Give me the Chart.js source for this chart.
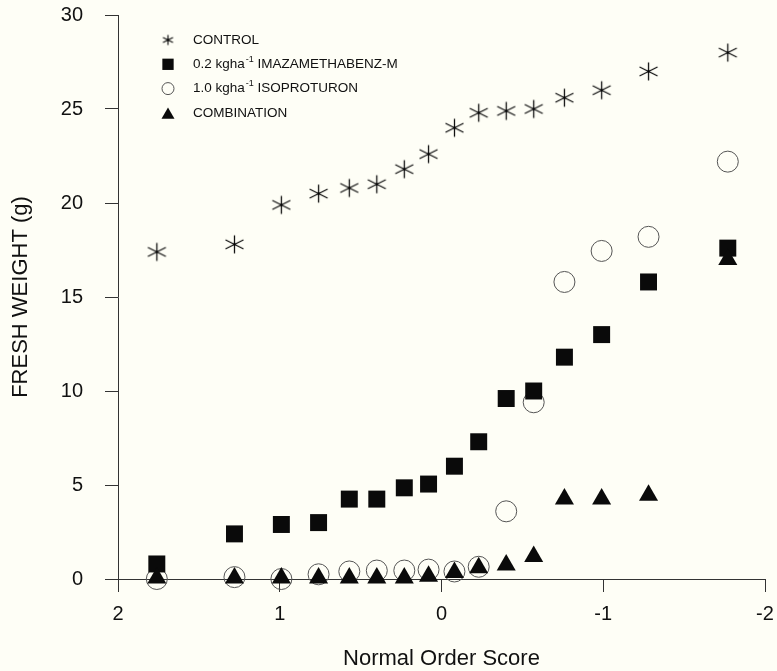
<!DOCTYPE html>
<html>
<head>
<meta charset="utf-8">
<title>Fresh weight against normal order score</title>
<script src="https://cdn.jsdelivr.net/npm/chart.js@4.4.1/dist/chart.umd.min.js"></script>
<style>
  html, body { margin: 0; padding: 0; background: #fefef6; }
  #wrap { width: 777px; height: 671px; position: relative; }
</style>
</head>
<body>
<div id="wrap"><canvas id="chart"></canvas></div>
<script>
// normal order scores (x) shared by every treatment
var scores = [1.76, 1.28, 0.99, 0.76, 0.57, 0.40, 0.23, 0.08, -0.08, -0.23, -0.40, -0.57, -0.76, -0.99, -1.28, -1.77];

// fresh weight (g), one value per score
var control = [17.4, 17.8, 19.9, 20.5, 20.8, 21.0, 21.8, 22.6, 24.0, 24.8, 24.9, 25.0, 25.6, 26.0, 27.0, 28.0];
var imaz    = [0.8, 2.4, 2.9, 3.0, 4.25, 4.25, 4.85, 5.05, 6.0, 7.3, 9.6, 10.0, 11.8, 13.0, 15.8, 17.6];
var iso     = [0.0, 0.1, 0.0, 0.25, 0.4, 0.45, 0.45, 0.5, 0.4, 0.65, 3.6, 9.4, 15.8, 17.45, 18.2, 22.2];
var combo   = [0.05, 0.05, 0.05, 0.05, 0.05, 0.05, 0.05, 0.15, 0.35, 0.6, 0.75, 1.2, 4.25, 4.25, 4.45, 17.0];

var xTicks = [2, 1, 0, -1, -2];
var yTicks = [0, 5, 10, 15, 20, 25, 30];

// legend text: [before, superscript, after]
var names = [
  ['CONTROL', '', ''],
  ['0.2 kgha', '-1', ' IMAZAMETHABENZ-M'],
  ['1.0 kgha', '-1', ' ISOPROTURON'],
  ['COMBINATION', '', '']
];

var FONT = "'Liberation Sans', Arial, Helvetica, sans-serif";
Chart.defaults.font.family = FONT;
Chart.defaults.color = '#111';

// six-armed asterisk used for the control marker
function asterisk(size, arm, lw) {
  var c = document.createElement('canvas');
  c.width = c.height = size;
  var g = c.getContext('2d'), m = size / 2;
  g.strokeStyle = '#111';
  g.lineWidth = lw;
  g.beginPath();
  g.moveTo(m, m - arm); g.lineTo(m, m + arm);
  g.moveTo(m - arm, m - arm * 0.5); g.lineTo(m + arm, m + arm * 0.5);
  g.moveTo(m - arm, m + arm * 0.5); g.lineTo(m + arm, m - arm * 0.5);
  g.stroke();
  g.fillStyle = '#000';
  g.fillRect(m - 1, m - 1, 2, 2);
  return c;
}

function pts(ys) {
  return ys.map(function(y, i) { return { x: scores[i], y: y }; });
}

var datasets = [
  { data: pts(control), pointStyle: asterisk(21, 9, 1.3), order: 3,
    legend: { img: asterisk(13, 5, 1.2) } },
  { data: pts(imaz), pointStyle: 'rect', pointRadius: 12, backgroundColor: '#0a0a0a', borderColor: '#0a0a0a', borderWidth: 0, order: 1,
    legend: { style: 'rect', radius: 8, fill: '#0a0a0a', stroke: '#0a0a0a', width: 0 } },
  { data: pts(iso), pointStyle: 'circle', pointRadius: 10.5, backgroundColor: 'rgba(0,0,0,0)', borderColor: '#555', borderWidth: 1, order: 2,
    legend: { style: 'circle', radius: 6, fill: 'rgba(0,0,0,0)', stroke: '#555', width: 1 } },
  { data: pts(combo), pointStyle: 'triangle', pointRadius: 11, backgroundColor: '#0a0a0a', borderColor: '#0a0a0a', borderWidth: 0, order: 0,
    legend: { style: 'triangle', radius: 7.5, fill: '#0a0a0a', stroke: '#0a0a0a', width: 0 } }
];
datasets.forEach(function(d) { d.showLine = false; d.clip = false; d.pointHoverRadius = d.pointRadius; });

// legend drawn inside the plot, top left
var insideLegend = {
  id: 'insideLegend',
  afterDraw: function(chart) {
    var ctx = chart.ctx;
    ctx.save();
    datasets.forEach(function(ds, i) {
      var y = 40 + i * 24.3, mx = 168, tx = 193;
      var lg = ds.legend;
      if (lg.img) {
        ctx.drawImage(lg.img, mx - lg.img.width / 2, y - lg.img.height / 2);
      } else {
        ctx.fillStyle = lg.fill;
        ctx.strokeStyle = lg.stroke;
        ctx.lineWidth = lg.width;
        Chart.helpers.drawPoint(ctx, { pointStyle: lg.style, radius: lg.radius, borderWidth: lg.width, rotation: 0 }, mx, y + (lg.style === 'triangle' ? 2 : 0));
      }
      var n = names[i];
      ctx.fillStyle = '#111';
      ctx.textBaseline = 'middle';
      ctx.font = '13.5px ' + FONT;
      ctx.fillText(n[0], tx, y);
      var x = tx + ctx.measureText(n[0]).width;
      if (n[1]) {
        ctx.font = '9px ' + FONT;
        ctx.fillText(n[1], x + 1, y - 5);
        x += ctx.measureText(n[1]).width + 1;
        ctx.font = '13.5px ' + FONT;
        ctx.fillText(n[2], x, y);
      }
    });
    ctx.restore();
  }
};

var canvasBg = {
  id: 'canvasBg',
  beforeDraw: function(chart) {
    var ctx = chart.ctx;
    ctx.save();
    ctx.fillStyle = '#fefef6';
    ctx.fillRect(0, 0, chart.width, chart.height);
    ctx.restore();
  }
};

new Chart(document.getElementById('chart'), {
  type: 'scatter',
  data: { datasets: datasets },
  plugins: [canvasBg, insideLegend],
  options: {
    responsive: true, maintainAspectRatio: false, animation: false, events: [],
    layout: { padding: { top: 15, right: 9, left: 0, bottom: 0 } },
    plugins: { legend: { display: false }, tooltip: { enabled: false } },
    scales: {
      x: {
        type: 'linear', reverse: true, min: -2, max: 2,
        afterBuildTicks: function(s) { s.ticks = xTicks.map(function(v) { return { value: v }; }); },
        afterFit: function(s) { s.height = 92; s.paddingLeft = 0; s.paddingRight = 0; },
        ticks: { font: { size: 20 }, padding: 10, maxRotation: 0, callback: function(v) { return String(v); } },
        grid: { drawOnChartArea: false, tickLength: 13, color: '#333' },
        border: { color: '#333', width: 1 },
        title: { display: true, text: 'Normal Order Score', font: { size: 22, lineHeight: 1 }, padding: { top: 0, bottom: 1 } }
      },
      y: {
        min: 0, max: 30,
        afterBuildTicks: function(s) { s.ticks = yTicks.map(function(v) { return { value: v }; }); },
        afterFit: function(s) { s.width = 118; s.paddingTop = 0; s.paddingBottom = 0; },
        ticks: { font: { size: 20 }, padding: 22, callback: function(v) { return String(v); } },
        grid: { drawOnChartArea: false, tickLength: 13, color: '#333' },
        border: { color: '#333', width: 1 },
        title: { display: true, text: 'FRESH WEIGHT (g)', font: { size: 22, lineHeight: 1 }, padding: { top: 10, bottom: 0 } }
      }
    }
  }
});
</script>
</body>
</html>
